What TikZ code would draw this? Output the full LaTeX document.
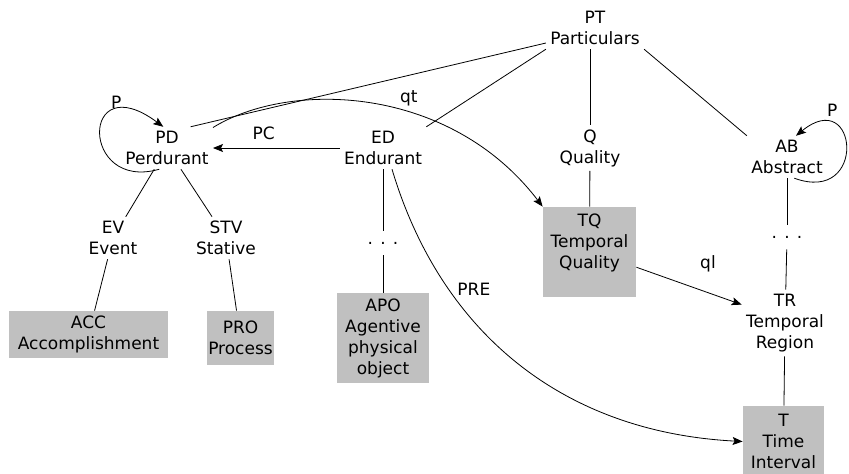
\documentclass[tikz,border=0pt]{standalone}
\usepackage{fontspec}
\setmainfont{DejaVu Sans}
\usepackage{xcolor}
\usetikzlibrary{arrows.meta}
\definecolor{leafgray}{RGB}{192,192,192}

\begin{document}
\begin{tikzpicture}[
        x=1pt, y=-1pt,
        cat/.style={align=center, inner sep=4pt, font=\fontsize{17}{21}\selectfont},
        leafcat/.style={cat, fill=leafgray, inner sep=0pt},
        gap/.style={inner sep=0pt, minimum height=24pt, font=\fontsize{17}{21}\selectfont},
        rel/.style={-{Stealth[length=10pt,width=8pt,inset=2pt]}},
        lbl/.style={font=\fontsize{17}{21}\selectfont, inner sep=2pt},
        line width=0.8pt,
    ]
    \useasboundingbox (0,0) rectangle (849,474);
    \node[cat] (pt) at (595,28) {PT\\Particulars};
    \node[cat] (pd) at (167,148) {PD\\Perdurant};
    \node[cat] (ed) at (383,148) {ED\\Endurant};
    \node[cat] (q) at (590,148) {Q\\Quality};
    \node[cat] (ab) at (787,157) {AB\\Abstract};
    \node[cat] (ev) at (113,238) {EV\\Event};
    \node[cat] (stv) at (226,238) {STV\\Stative};
    \node[gap] (eddots) at (383,243) {. . .};
    \node[gap] (abdots) at (787,237) {. . .};
    \node[cat] (tr) at (785,323) {TR\\Temporal\\Region};
    \node[leafcat, minimum width=159pt, minimum height=47pt] (acc) at (88.5,334.5) {ACC\\Accomplishment};
    \node[leafcat, minimum width=67pt, minimum height=54pt] (pro) at (240.5,338) {PRO\\Process};
    \node[leafcat, minimum width=92pt, minimum height=90pt] (apo) at (383,338) {APO\\Agentive\\physical\\object};
    \node[leafcat, minimum width=93pt, minimum height=90pt] (tq) at (589.5,252) {TQ\\Temporal\\Quality\\\mbox{}};
    \node[leafcat, minimum width=81pt, minimum height=71pt] (ti) at (783.5,441.5) {T\\Time\\Interval};
    % taxonomy
    \draw (pt.197) -- (pd.42);
    \draw (pt.south west) -- (ed.north east);
    \draw (pt.south -| q.north) -- (q.north);
    \draw (pt.south east) -- (ab.north west);
    \draw (pd) -- (ev);
    \draw (pd) -- (stv);
    \draw (ev) -- (acc);
    \draw (stv) -- (pro);
    \draw (ed) -- (eddots);
    \draw (eddots) -- (apo);
    \draw (q) -- (tq);
    \draw (ab) -- (abdots);
    \draw (abdots) -- (tr);
    \draw (tr) -- (ti);
    % relations
    \draw[rel] (pd.250) .. controls (80,192) and (80,65) .. (pd.100) node[lbl, pos=0.75, above] {P};
    \draw[rel] (ab.289) .. controls (868,205) and (858,85) .. (ab.67) node[lbl, pos=0.75, above=6pt] {P};
    \draw[rel] (ed.west) -- (pd.east) node[lbl, pos=0.6, above=6pt] {PC};
    \draw[rel] (pd.24) .. controls (290,80) and (450,85) .. (tq.north west) node[lbl, pos=0.6, above=4pt] {qt};
    \draw[rel] (ed.293) .. controls (440,330) and (560,432) .. (ti.west) node[lbl, pos=0.28, right=6pt] {PRE};
    \draw[rel] (tq.342) -- (tr.157) node[lbl, pos=0.68, above=18pt] {ql};
\end{tikzpicture}
\end{document}
